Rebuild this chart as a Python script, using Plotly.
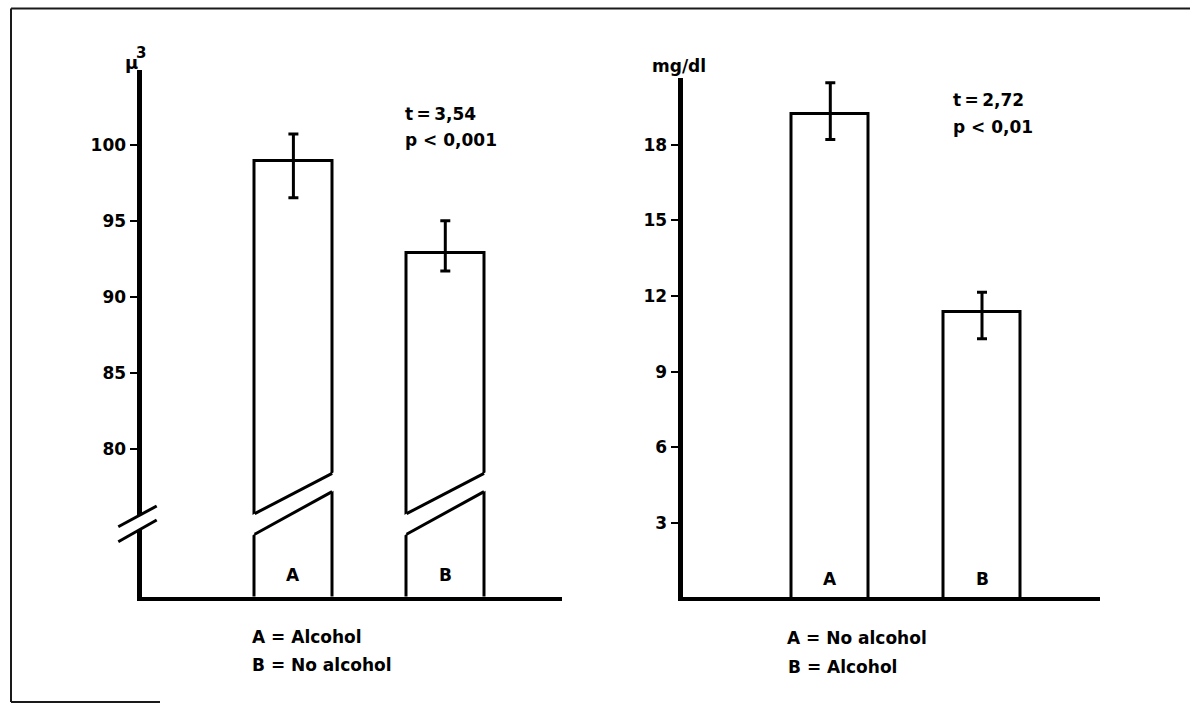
import plotly.graph_objects as go

W, H = 1190, 704

# ---------------- data ----------------
left_categories = ["A", "B"]
left_means = [98.9, 92.9]
left_upper = [100.7, 95.0]
left_lower = [96.5, 91.7]
left_ticks = [80, 85, 90, 95, 100]
left_unit = ["μ", "3"]
left_stats = ["t\u2009=\u20093,54", "p < 0,001"]
left_legend = ["A = Alcohol", "B = No alcohol"]

right_categories = ["A", "B"]
right_means = [19.2, 11.35]
right_upper = [20.45, 12.15]
right_lower = [18.2, 10.3]
right_ticks = [3, 6, 9, 12, 15, 18]
right_unit = "mg/dl"
right_stats = ["t\u2009=\u20092,72", "p < 0,01"]
right_legend = ["A = No alcohol", "B = Alcohol"]

# ---------------- helpers ----------------
def fx(px):
    return px / W


def fy(py):
    return 1 - py / H


FONT = dict(family="DejaVu Sans", size=17, color="black", weight="bold")
BAR_W = 0.51

fig = go.Figure()

lx = list(range(len(left_categories)))
rx = list(range(len(right_categories)))

fig.add_trace(go.Bar(
    x=lx, y=left_means, width=BAR_W,
    marker=dict(color="white", line=dict(color="black", width=3)),
    error_y=dict(type="data", symmetric=False,
                 array=[u - m for u, m in zip(left_upper, left_means)],
                 arrayminus=[m - l for m, l in zip(left_means, left_lower)],
                 color="black", thickness=3, width=5),
    xaxis="x", yaxis="y", showlegend=False, hoverinfo="skip"))

fig.add_trace(go.Bar(
    x=rx, y=right_means, width=BAR_W,
    marker=dict(color="white", line=dict(color="black", width=3)),
    error_y=dict(type="data", symmetric=False,
                 array=[u - m for u, m in zip(right_upper, right_means)],
                 arrayminus=[m - l for m, l in zip(right_means, right_lower)],
                 color="black", thickness=3, width=5),
    xaxis="x2", yaxis="y2", showlegend=False, hoverinfo="skip"))

# ---------------- axes geometry (pixel based) ----------------
L_dom_x = (141.5, 562.0)
L_dom_y = (596.6, 70.0)
def Lv(py):
    return 100 - (py - 144.6) / 15.22
def Lc(px):
    return (px - 293.4) / 151.9

R_dom_x = (682.5, 1100.0)
R_dom_y = (597.0, 78.0)
def Rv(py):
    return (598.7 - py) / 25.23
def Rc(px):
    return (px - 830.3) / 151.7

axis_common_y = dict(showline=True, linecolor="black", linewidth=5,
                     ticks="outside", ticklen=7, tickwidth=2, tickcolor="black",
                     showgrid=False, zeroline=False, tickfont=FONT)
axis_common_x = dict(showline=True, linecolor="black", linewidth=4,
                     showticklabels=False, ticks="", showgrid=False, zeroline=False)

fig.update_layout(
    width=W, height=H,
    margin=dict(l=0, r=0, t=0, b=0),
    paper_bgcolor="white", plot_bgcolor="white",
    showlegend=False,
    bargap=0,
    xaxis=dict(domain=[fx(L_dom_x[0]), fx(L_dom_x[1])],
               range=[Lc(L_dom_x[0]), Lc(L_dom_x[1])], anchor="y", **axis_common_x),
    yaxis=dict(domain=[fy(L_dom_y[0]), fy(L_dom_y[1])],
               range=[Lv(L_dom_y[0]), Lv(L_dom_y[1])], anchor="x",
               tickvals=left_ticks, ticktext=[str(t) for t in left_ticks],
               **axis_common_y),
    xaxis2=dict(domain=[fx(R_dom_x[0]), fx(R_dom_x[1])],
                range=[Rc(R_dom_x[0]), Rc(R_dom_x[1])], anchor="y2", **axis_common_x),
    yaxis2=dict(domain=[fy(R_dom_y[0]), fy(R_dom_y[1])],
                range=[Rv(R_dom_y[0]), Rv(R_dom_y[1])], anchor="x2",
                tickvals=right_ticks, ticktext=[str(t) for t in right_ticks],
                **axis_common_y),
)

shapes = []

# ---------------- bar breaks (left panel) ----------------
UP = (75.75, 78.4)
LO = (74.4, 77.2)
slope = (UP[1] - UP[0]) / BAR_W
eps = 0.035
for xc in lx:
    xl, xr = xc - BAR_W / 2, xc + BAR_W / 2
    path = (f"M {xl - eps},{UP[0] - slope * eps} L {xr + eps},{UP[1] + slope * eps} "
            f"L {xr + eps},{LO[1] + slope * eps} L {xl - eps},{LO[0] - slope * eps} Z")
    shapes.append(dict(type="path", xref="x", yref="y", path=path,
                       fillcolor="white", line=dict(width=0), layer="above"))
    shapes.append(dict(type="line", xref="x", yref="y", x0=xl, y0=UP[0], x1=xr, y1=UP[1],
                       line=dict(color="black", width=3), layer="above"))
    shapes.append(dict(type="line", xref="x", yref="y", x0=xl, y0=LO[0], x1=xr, y1=LO[1],
                       line=dict(color="black", width=3), layer="above"))

# ---------------- axis break on left y axis ----------------
bk_up = ((118.3, 526.7), (156.7, 506.0))
bk_lo = ((118.3, 541.7), (156.7, 520.0))
def interp(seg, px):
    (x0, y0), (x1, y1) = seg
    return y0 + (y1 - y0) * (px - x0) / (x1 - x0)
ax_l, ax_r = 133.0, 145.0
gap_path = (f"M {fx(ax_l)},{fy(interp(bk_up, ax_l))} L {fx(ax_r)},{fy(interp(bk_up, ax_r))} "
            f"L {fx(ax_r)},{fy(interp(bk_lo, ax_r))} L {fx(ax_l)},{fy(interp(bk_lo, ax_l))} Z")
shapes.append(dict(type="path", xref="paper", yref="paper", path=gap_path,
                   fillcolor="white", line=dict(width=0), layer="above"))
for seg in (bk_up, bk_lo):
    (x0, y0), (x1, y1) = seg
    shapes.append(dict(type="line", xref="paper", yref="paper",
                       x0=fx(x0), y0=fy(y0), x1=fx(x1), y1=fy(y1),
                       line=dict(color="black", width=3), layer="above"))

# ---------------- outer frame (scan border) ----------------
frame_col = "#1a1a1a"
shapes.append(dict(type="line", xref="paper", yref="paper", x0=fx(11), y0=fy(8.5), x1=1, y1=fy(8.5),
                   line=dict(color=frame_col, width=2)))
shapes.append(dict(type="line", xref="paper", yref="paper", x0=fx(11), y0=fy(8.5), x1=fx(11), y1=fy(702),
                   line=dict(color=frame_col, width=2)))
shapes.append(dict(type="line", xref="paper", yref="paper", x0=fx(11), y0=fy(702), x1=fx(160), y1=fy(702),
                   line=dict(color=frame_col, width=2)))

fig.update_layout(shapes=shapes)

# ---------------- text ----------------
ann = []
def text(s, px, py, xanchor="left", size=17):
    f = dict(FONT)
    f["size"] = size
    ann.append(dict(text=s, x=fx(px), y=fy(py), xref="paper", yref="paper",
                    xanchor=xanchor, yanchor="middle", showarrow=False,
                    borderpad=0, font=f))

for xc, cat in zip(lx, left_categories):
    ann.append(dict(text=cat, x=xc, y=Lv(575), xref="x", yref="y", showarrow=False,
                    xanchor="center", yanchor="middle", font=FONT))
for xc, cat in zip(rx, right_categories):
    ann.append(dict(text=cat, x=xc, y=Rv(579), xref="x2", yref="y2", showarrow=False,
                    xanchor="center", yanchor="middle", font=FONT))

text(left_unit[0], 124, 62, size=18)
text(left_unit[1], 135, 53, size=15)
text(right_unit, 651, 66)
text(left_stats[0], 404, 114)
text(left_stats[1], 404, 140)
text(right_stats[0], 952, 100)
text(right_stats[1], 952, 127)
text(left_legend[0], 251, 637)
text(left_legend[1], 251, 665)
text(right_legend[0], 786, 638)
text(right_legend[1], 787, 667)

fig.update_layout(annotations=ann)

fig.write_html(
    "out.html",
    config={"displayModeBar": False},
    post_script="document.body.style.margin='0';document.body.style.overflow='hidden';",
)
